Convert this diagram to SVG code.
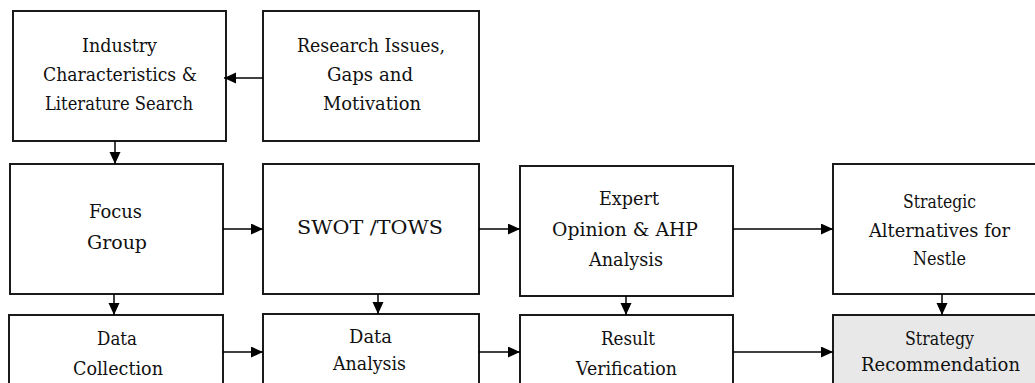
<svg xmlns="http://www.w3.org/2000/svg" width="1035" height="383" viewBox="0 0 1035 383">
<style>
.box{fill:#ffffff;stroke:#1a1a1a;stroke-width:2}
.gray{fill:#e8e8e8}
.lbl{font-family:'DejaVu Serif','Liberation Serif',serif;font-size:18px;fill:#111;text-anchor:middle}
.conn{stroke:#000;stroke-width:1.5;fill:none;marker-end:url(#ah)}
</style>
<defs>
<marker id="ah" markerUnits="userSpaceOnUse" markerWidth="13" markerHeight="12" refX="12" refY="5.5" orient="auto">
<path d="M0,0 L12,5.5 L0,11 Z" fill="#000"/>
</marker>
</defs>
<rect width="1035" height="383" fill="#ffffff"/>
<g id="industry">
<rect class="box" x="13" y="11" width="213" height="130"/>
<text class="lbl" x="119.5" y="52" textLength="75" lengthAdjust="spacingAndGlyphs">Industry</text>
<text class="lbl" x="120" y="81" textLength="154" lengthAdjust="spacingAndGlyphs">Characteristics &amp;</text>
<text class="lbl" x="119" y="110" textLength="148" lengthAdjust="spacingAndGlyphs">Literature Search</text>
</g>
<g id="research">
<rect class="box" x="263" y="11" width="216" height="130"/>
<text class="lbl" x="371" y="52" textLength="148" lengthAdjust="spacingAndGlyphs">Research Issues,</text>
<text class="lbl" x="370" y="81" textLength="86" lengthAdjust="spacingAndGlyphs">Gaps and</text>
<text class="lbl" x="372" y="110" textLength="98" lengthAdjust="spacingAndGlyphs">Motivation</text>
</g>
<g id="focus">
<rect class="box" x="10" y="164" width="213" height="130"/>
<text class="lbl" x="115.5" y="218" textLength="53" lengthAdjust="spacingAndGlyphs">Focus</text>
<text class="lbl" x="117" y="249" textLength="60" lengthAdjust="spacingAndGlyphs">Group</text>
</g>
<g id="swot">
<rect class="box" x="263" y="164" width="216" height="130"/>
<text class="lbl" x="370" y="234" textLength="146" lengthAdjust="spacingAndGlyphs">SWOT /TOWS</text>
</g>
<g id="expert">
<rect class="box" x="520" y="166" width="213" height="130"/>
<text class="lbl" x="629" y="205" textLength="60" lengthAdjust="spacingAndGlyphs">Expert</text>
<text class="lbl" x="625" y="236" textLength="146" lengthAdjust="spacingAndGlyphs">Opinion &amp; AHP</text>
<text class="lbl" x="626" y="266" textLength="74" lengthAdjust="spacingAndGlyphs">Analysis</text>
</g>
<g id="strategic">
<rect class="box" x="833" y="164" width="213" height="130"/>
<text class="lbl" x="939.5" y="208" textLength="73" lengthAdjust="spacingAndGlyphs">Strategic</text>
<text class="lbl" x="939.5" y="237" textLength="141" lengthAdjust="spacingAndGlyphs">Alternatives for</text>
<text class="lbl" x="939.5" y="265" textLength="53" lengthAdjust="spacingAndGlyphs">Nestle</text>
</g>
<g id="datacollection">
<rect class="box" x="9" y="315" width="214" height="80"/>
<text class="lbl" x="117" y="345" textLength="40" lengthAdjust="spacingAndGlyphs">Data</text>
<text class="lbl" x="118" y="375" textLength="90" lengthAdjust="spacingAndGlyphs">Collection</text>
</g>
<g id="dataanalysis">
<rect class="box" x="263" y="314" width="216" height="80"/>
<text class="lbl" x="370.5" y="343" textLength="43" lengthAdjust="spacingAndGlyphs">Data</text>
<text class="lbl" x="369.5" y="370" textLength="73" lengthAdjust="spacingAndGlyphs">Analysis</text>
</g>
<g id="result">
<rect class="box" x="520" y="315" width="213" height="80"/>
<text class="lbl" x="628" y="345" textLength="54" lengthAdjust="spacingAndGlyphs">Result</text>
<text class="lbl" x="626.5" y="375" textLength="101" lengthAdjust="spacingAndGlyphs">Verification</text>
</g>
<g id="recommendation">
<rect class="box gray" x="833" y="315" width="213" height="80"/>
<text class="lbl" x="939.5" y="345" textLength="69" lengthAdjust="spacingAndGlyphs">Strategy</text>
<text class="lbl" x="940.5" y="371" textLength="159" lengthAdjust="spacingAndGlyphs">Recommendation</text>
</g>
<g id="connectors">
<line class="conn" x1="263" y1="78" x2="224" y2="78"/>
<line class="conn" x1="115" y1="141" x2="115" y2="164"/>
<line class="conn" x1="223" y1="229" x2="263" y2="229"/>
<line class="conn" x1="479" y1="229" x2="520" y2="229"/>
<line class="conn" x1="733" y1="229" x2="833" y2="229"/>
<line class="conn" x1="114" y1="294" x2="114" y2="315"/>
<line class="conn" x1="378" y1="294" x2="378" y2="314"/>
<line class="conn" x1="626" y1="296" x2="626" y2="315"/>
<line class="conn" x1="942" y1="294" x2="942" y2="315"/>
<line class="conn" x1="223" y1="352" x2="263" y2="352"/>
<line class="conn" x1="479" y1="352" x2="520" y2="352"/>
<line class="conn" x1="733" y1="352" x2="833" y2="352"/>
</g>
</svg>
